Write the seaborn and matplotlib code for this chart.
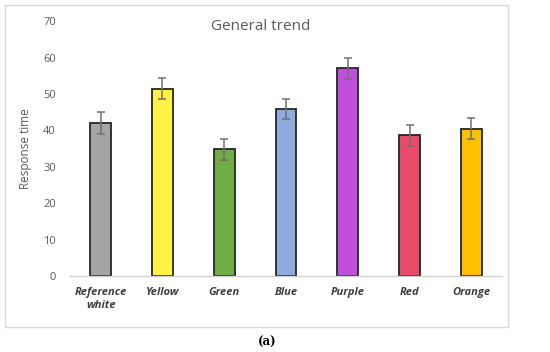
import matplotlib
matplotlib.use("Agg")
import matplotlib.pyplot as plt
import seaborn as sns
import pandas as pd
from matplotlib.patches import Rectangle

colours = ["Reference\nwhite", "Yellow", "Green", "Blue", "Purple", "Red", "Orange"]
response_time = [42.1, 51.4, 34.8, 45.9, 57.1, 38.6, 40.4]
error = [3.0, 2.9, 2.9, 2.8, 2.9, 3.0, 2.9]
bar_colours = ["#A5A5A5", "#FFF245", "#70AD47", "#8FAADC", "#C050DC", "#E84B69", "#FFC000"]
y_ticks = [0, 10, 20, 30, 40, 50, 60, 70]

df = pd.DataFrame({"colour": colours, "time": response_time})

sns.set_style("white")
plt.rcParams["font.family"] = ["Open Sans", "DejaVu Sans"]

fig = plt.figure(figsize=(5.5, 3.52), dpi=100)
ax = fig.add_axes([0.127, 0.216, 0.786, 0.724])

sns.barplot(data=df, x="colour", y="time", hue="colour", palette=bar_colours,
            saturation=1, legend=False, width=0.34, edgecolor="#262626",
            linewidth=1.3, ax=ax)
ax.errorbar(range(len(colours)), response_time, yerr=error, fmt="none",
            ecolor="#707070", elinewidth=1.1, capsize=3, capthick=1.1)

ax.set_xlim(-0.5, 6.5)
ax.set_ylim(0, 70)
ax.set_yticks(y_ticks)
ax.set_yticklabels([str(t) for t in y_ticks], color="#595959", fontsize=8)
ax.tick_params(axis="y", length=0, pad=10)
ax.tick_params(axis="x", length=0, pad=8)
for lab in ax.get_xticklabels():
    lab.set_fontstyle("italic")
    lab.set_fontweight("bold")
    lab.set_color("#404040")
    lab.set_fontsize(8)

for side in ["top", "right", "left"]:
    ax.spines[side].set_visible(False)
ax.spines["bottom"].set_color("#D0D0D0")
ax.spines["bottom"].set_linewidth(1)

ax.set_xlabel("")
ax.set_ylabel("Response time", color="#595959", fontsize=8.5, labelpad=8)

# chart title sits centred on the whole chart area, like the Excel original
fig.text(261 / 550, 1 - 27 / 352, "General trend", ha="center", va="center",
         color="#595959", fontsize=11)

fig.patches.append(Rectangle((5 / 550, 1 - 327 / 352), 503 / 550, 322 / 352,
                             transform=fig.transFigure, fill=False,
                             edgecolor="#D9D9D9", linewidth=1))
fig.text(267 / 550, 1 - 342 / 352, "(a)", ha="center", va="center",
         fontsize=8.5, fontweight="bold", color="black", family=["DejaVu Serif"])

fig.savefig("out.png", dpi=100)
